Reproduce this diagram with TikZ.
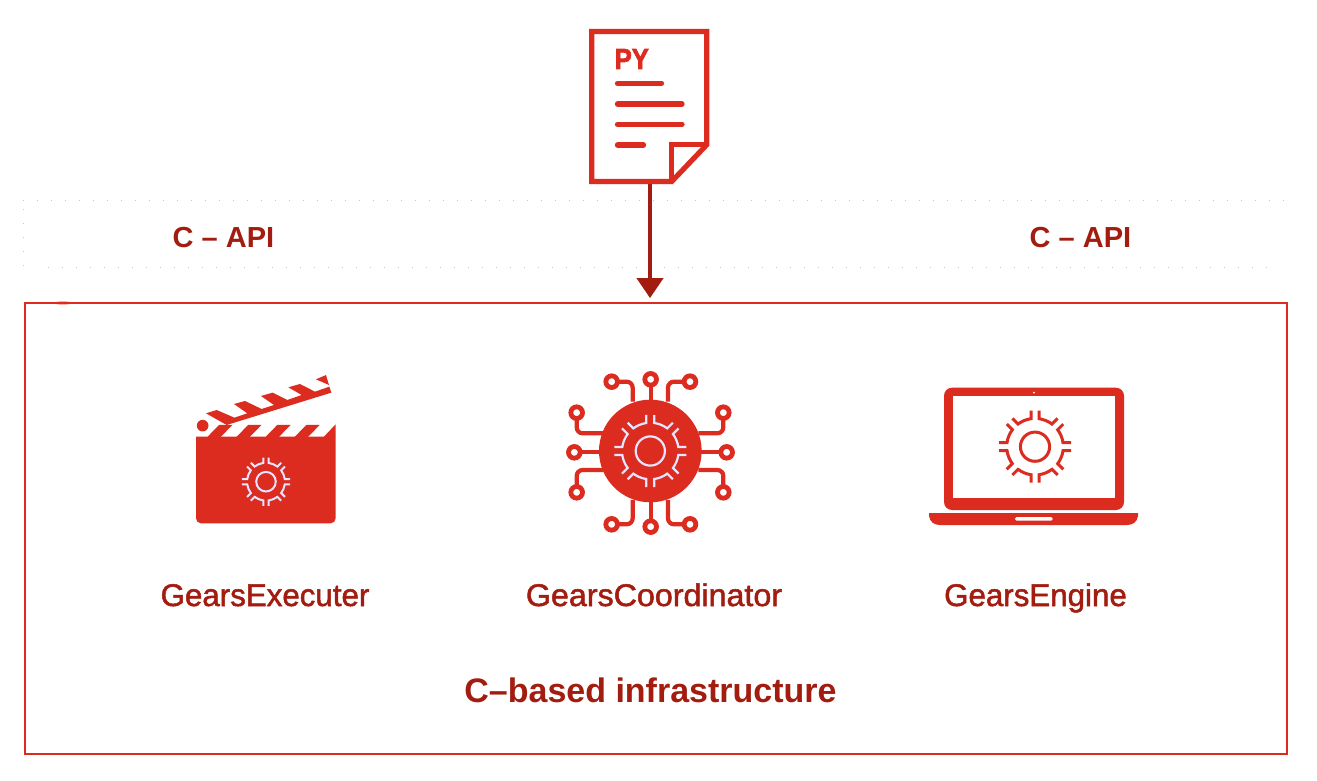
\documentclass[tikz,border=0pt]{standalone}
\usepackage{fontspec}
\setmainfont{Liberation Sans}
\usetikzlibrary{arrows.meta}
\definecolor{iconred}{HTML}{DC2C20}
\definecolor{darkred}{HTML}{A31C10}
\newcommand{\heavier}[2]{\special{pdf:code 2 Tr #1 w 0.639 0.11 0.063 RG}#2\special{pdf:code 0 Tr}}
\newcommand{\heavierred}[2]{\special{pdf:code 2 Tr #1 w 0.863 0.173 0.125 RG}#2\special{pdf:code 0 Tr}}
\tikzset{
  label text/.style={text=darkred,anchor=base,inner sep=0pt},
  item text/.style={label text,font=\fontsize{31.3}{34}\selectfont},
  head text/.style={label text,font=\bfseries\fontsize{34}{36}\selectfont},
  api text/.style={label text,font=\bfseries\fontsize{29}{33}\selectfont},
  doc line/.style={draw=iconred,line width=5.3pt,line cap=round},
  trace/.style={draw=iconred,line width=4.2pt,rounded corners=6pt},
  terminal/.style={draw=iconred,line width=4.8pt,fill=white},
  speck/.style={draw=black!22,line width=.8pt,dash pattern=on .8pt off 13.2pt},
}
\newcommand{\gearicon}[5]{%
  \begin{scope}[shift={(#1,#2)},scale=#3]
    \draw[#4,line width=#5] (0,0) circle[radius=14.6];
    \foreach \k in {0,...,7}{
      \draw[#4,line width=#5,rotate=\k*45]
        (36,4) -- (28,4) arc[start angle=8.13,end angle=36.87,radius=28.28] -- (28.29,22.63);
    }
  \end{scope}}
\begin{document}
\begin{tikzpicture}[x=1pt,y=-1pt]
\useasboundingbox (0,0) rectangle (1317,781);
\fill[white] (0,0) rectangle (1317,781);
% faint specks
\draw[speck] (23,200.7) -- (1285,200.7);
\draw[speck] (23,209) -- (23,266);
\draw[speck] (48,267.7) -- (1270,267.7);
\fill[iconred!35] (63,303) ellipse[x radius=8,y radius=2];
% infrastructure frame
\node[draw=iconred,line width=1.8pt,minimum width=1262pt,minimum height=451pt,inner sep=0pt] (infra) at (656,528.5) {};
% document
\node[minimum width=120pt,minimum height=155pt,inner sep=0pt] (doc) at (650,106.5) {};
\draw[iconred,line width=5.2pt,line join=miter,fill=white]
  (591.8,31.5) -- (706.8,31.5) -- (706.8,144.7) -- (671.7,181.5) -- (591.8,181.5) -- cycle;
\draw[iconred,line width=5.2pt] (671.7,181.5) -- (671.7,144.7) -- (706.8,144.7);
\node[text=iconred,anchor=base,inner sep=0pt,font=\bfseries\fontsize{29}{32}\selectfont,transform shape,xscale=.88] (py) at (631.8,69) {\heavierred{.7}{PY}};
\draw[doc line] (617.5,83.3) -- (661.5,83.3);
\draw[doc line] (617.5,104) -- (682,104);
\draw[doc line] (617.5,124.3) -- (682,124.3);
\draw[doc line] (617.5,145) -- (643.5,145);
\draw[darkred,line width=4pt,-{Triangle[width=26pt,length=20pt]},shorten >=4pt] (doc.south) -- (doc.south |- infra.north);
% labels
\node[api text] (apil) at (223.5,247.3) {C – API};
\node[api text] (apir) at (1080.5,247.3) {C – API};
\node[item text] (exec) at (265,606) {\heavier{.5}{GearsExecuter}};
\node[item text,transform shape,xscale=1.03] (coord) at (654,606) {\heavier{.5}{GearsCoordinator}};
\node[item text] (engine) at (1035.5,606) {\heavier{.5}{GearsEngine}};
\node[head text] (base) at (650.5,702.5) {C–based infrastructure};
% clapperboard
\begin{scope}[shift={(190,370)},x=.3333pt,y=-.3333pt]
  \fill[iconred] (48,130) -- (80,120) -- (133,143) -- (172,130) -- (132,102) -- (165,93) -- (215,117) -- (252,105) -- (213,78) -- (248,68) -- (292,90) -- (335,75) -- (295,52) -- (330,42) -- (375,65) -- (418,50) -- (424,68) -- (110,165) -- cycle;
  \fill[iconred] (378,28) -- (408,15) -- (417,45) -- cycle;
  \fill[iconred] (38,167) circle[radius=17.5];
  \foreach \d in {0,87.3,174.6,261.9}{
    \fill[iconred] (52+\d,201) -- (87+\d,165) -- (127+\d,165) -- (92+\d,201) -- cycle;
  }
  \fill[iconred] (401,201) -- (437,163) -- (437,201) -- cycle;
  \fill[iconred] (18,200) -- (437,200) -- (437,445) arc[start angle=0,end angle=90,radius=15] -- (33,460) arc[start angle=90,end angle=180,radius=15] -- cycle;
\end{scope}
\gearicon{266}{481.7}{.67}{white!90!blue}{2pt}
% coordinator
\begin{scope}[shift={(560,365)},x=.3333pt,y=-.3333pt]
  \foreach \a/\b/\c/\d in {155/50/218/110,390/50/324/110,155/478/218/405,390/478/324/405}{
    \draw[trace] (\a,\b) -- (\c,\b) -- (\c,\d);
  }
  \foreach \a/\b/\c/\d in {50/143/205/130,490/143/205/415,50/382/315/130,490/382/315/415}{
    \draw[trace] (\a,\b) -- (\a,\c) -- (\d,\c);
  }
  \draw[trace] (272,43) -- (272,110);
  \draw[trace] (272,485) -- (272,405);
  \draw[trace] (43,262) -- (125,262);
  \draw[trace] (500,262) -- (420,262);
  \fill[iconred] (271,258) circle[radius=154];
  \foreach \a/\b in {155/50,272/43,390/50,50/143,43/262,50/382,155/478,272/485,390/478,490/143,500/262,490/382}{
    \draw[terminal] (\a,\b) circle[radius=17.5];
  }
\end{scope}
\gearicon{650.3}{451}{1}{white!90!blue}{2.2pt}
% laptop
\fill[iconred,rounded corners=8pt] (944,387.7) rectangle (1124,510);
\fill[white] (953.3,396.3) rectangle (1115,497.7);
\fill[white] (1034,392.7) circle[radius=1];
\fill[iconred] (929,513) -- (1138,513) -- (1138,516) .. controls (1137,522) and (1133,525) .. (1127,525) -- (940,525) .. controls (934,525) and (930,522) .. (929,516) -- cycle;
\fill[white,rounded corners=1.5pt] (1015,517) rectangle (1052.7,520.7);
\gearicon{1035}{446.7}{1}{iconred}{3pt}
\end{tikzpicture}
\end{document}
